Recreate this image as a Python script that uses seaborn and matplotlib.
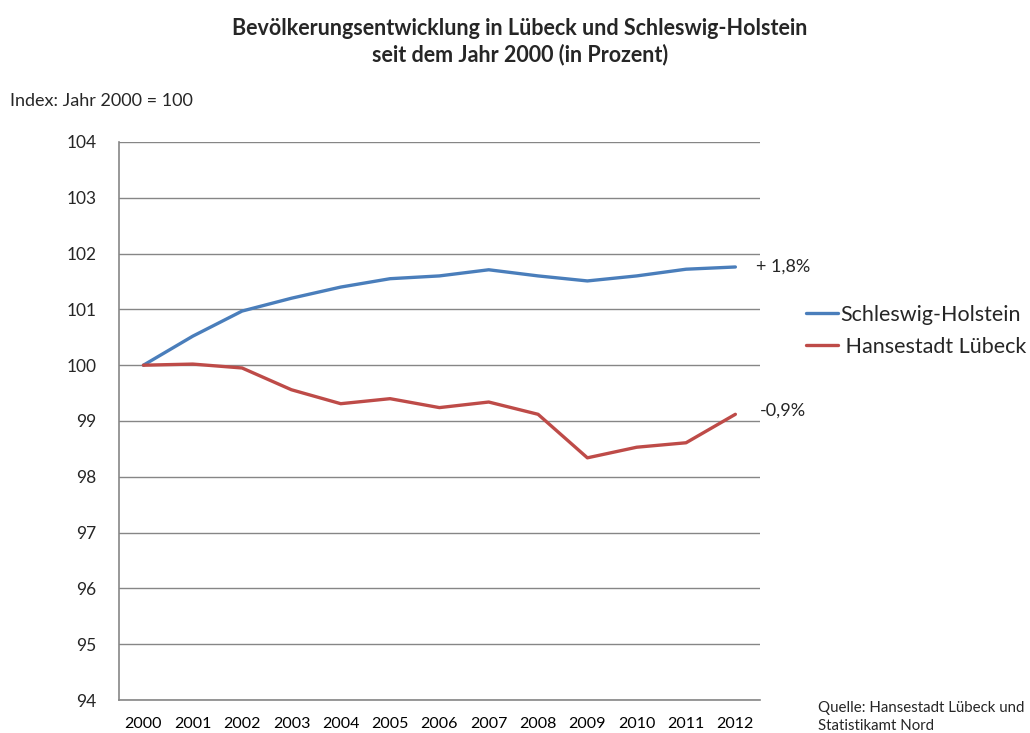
import matplotlib
matplotlib.use("Agg")
import matplotlib.pyplot as plt
import seaborn as sns
import pandas as pd
import numpy as np

years = [2000, 2001, 2002, 2003, 2004, 2005, 2006, 2007, 2008, 2009, 2010, 2011, 2012]
schleswig_holstein = [100.0, 100.52, 100.97, 101.20, 101.40, 101.55, 101.60, 101.71, 101.60, 101.51, 101.60, 101.72, 101.76]
luebeck = [100.0, 100.02, 99.95, 99.56, 99.31, 99.40, 99.24, 99.34, 99.12, 98.34, 98.53, 98.61, 99.12]
series_names = ["Schleswig-Holstein", "Hansestadt Lübeck"]
legend_labels = ["Schleswig-Holstein", " Hansestadt Lübeck"]
end_labels = ["+ 1,8%", "-0,9%"]
colors = ["#4A7EBB", "#BE4B48"]
y_ticks = [94, 95, 96, 97, 98, 99, 100, 101, 102, 103, 104]

sns.set_theme(style="white")
plt.rcParams['font.family'] = ['Lato', 'DejaVu Sans']

df = pd.DataFrame({
    "pos": list(range(len(years))) * 2,
    "year": years * 2,
    "value": schleswig_holstein + luebeck,
    "series": [series_names[0]] * len(years) + [series_names[1]] * len(years),
})

fig = plt.figure(figsize=(10.30, 7.33), dpi=100)
ax = fig.add_axes([0.1153, 0.045, 0.6226, 0.7613])

sns.lineplot(data=df, x="pos", y="value", hue="series", palette=colors,
             hue_order=series_names, linewidth=2.4, ax=ax, legend=False)

ax.set_xlim(-0.5, len(years) - 0.5)
ax.set_ylim(94, 104)
ax.set_yticks(y_ticks)
ax.set_yticklabels([str(t) for t in y_ticks], fontsize=12.5)
ax.set_xticks(range(len(years)))
ax.set_xticklabels([str(y) for y in years], fontsize=11.5)
ax.set_xticks(np.arange(-0.5, len(years), 1.0), minor=True)
ax.tick_params(axis="x", which="major", length=0, pad=12, colors="black")
ax.tick_params(axis="x", which="minor", length=6, width=1, color="#868686", direction="out")
ax.tick_params(axis="y", which="major", length=8, width=1, color="#868686", direction="out", pad=8)
ax.set_xlabel("")
ax.set_ylabel("")
ax.grid(True, axis="y", color="#868686", linewidth=1)
ax.grid(False, axis="x")
for s in ["top", "right"]:
    ax.spines[s].set_visible(False)
for s in ["left", "bottom"]:
    ax.spines[s].set_color("#868686")
    ax.spines[s].set_linewidth(1.2)

# end labels
ax.annotate(end_labels[0], xy=(len(years) - 1, schleswig_holstein[-1]), xytext=(15, 0),
            textcoords="offset points", va="center", ha="left", fontsize=13)
ax.annotate(end_labels[1], xy=(len(years) - 1, luebeck[-1]), xytext=(18, 3),
            textcoords="offset points", va="center", ha="left", fontsize=13)

# legend
from matplotlib.lines import Line2D
handles = [Line2D([0], [0], color=c, lw=2.4) for c in colors]
fig.legend(handles, legend_labels, loc="upper left", bbox_to_anchor=(0.774, 0.596),
           frameon=False, fontsize=15.5, handlelength=1.5, handletextpad=0.1,
           labelspacing=0.55, borderaxespad=0)

fig.text(0.505, 0.975, "Bevölkerungsentwicklung in Lübeck und Schleswig-Holstein\nseit dem Jahr 2000 (in Prozent)",
         ha="center", va="top", fontsize=15.5, fontweight="bold", linespacing=1.25)
fig.text(0.010, 0.862, "Index: Jahr 2000 = 100", ha="left", va="center", fontsize=13)
fig.text(0.794, 0.022, "Quelle: Hansestadt Lübeck und\nStatistikamt Nord", ha="left", va="center",
         fontsize=10.8, linespacing=1.35)

fig.savefig("out.png", dpi=100)
